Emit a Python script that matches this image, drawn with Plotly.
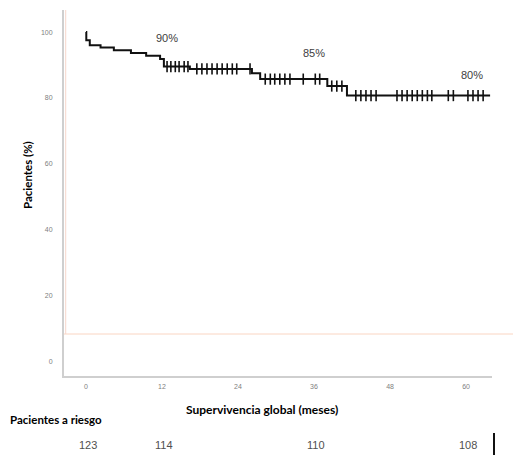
import plotly.graph_objects as go

# Kaplan-Meier step points (months, survival %)
step_times = [0, 0.05, 0.6, 2.3, 4.4, 7.1, 9.5, 11.7, 12.3, 16.4, 26.2, 27.5, 38.1, 41.2, 63.8]
step_surv = [100, 97.5, 96.0, 95.3, 94.5, 93.6, 92.8, 91.8, 89.5, 88.8, 87.5, 85.7, 83.6, 80.7, 80.7]

# censored observations (months)
censor_times = [12.8, 13.4, 14.1, 14.7, 15.5, 16.1,
                17.5, 18.3, 19.1, 19.9, 20.7, 21.5, 22.3, 23.1, 23.8, 25.9,
                28.3, 29.1, 29.8, 30.6, 31.4, 32.2, 34.3, 36.2, 36.9,
                38.8, 39.6, 40.4,
                42.6, 43.4, 44.2, 45.0, 45.8, 49.1, 49.9, 50.7, 51.5, 52.3, 53.1, 53.9, 54.6,
                57.2, 58.0, 60.3, 61.1, 61.9, 62.7]

x_ticks = [0, 12, 24, 36, 48, 60]
y_ticks = [0, 20, 40, 60, 80, 100]

pct_labels = ["90%", "85%", "80%"]
pct_x = [12.8, 36.0, 61.0]
pct_y = [98.2, 93.6, 86.9]

risk_times = [0, 12, 36, 60]
risk_counts = ["123", "114", "110", "108"]


def surv_at(t):
    s = step_surv[0]
    for tt, ss in zip(step_times, step_surv):
        if tt <= t:
            s = ss
    return s


censor_surv = [surv_at(t) for t in censor_times]

fig = go.Figure()
fig.add_trace(go.Scatter(x=step_times, y=step_surv, mode="lines",
                         line=dict(color="#111111", width=2, shape="hv"),
                         hoverinfo="skip", showlegend=False))
fig.add_trace(go.Scatter(x=censor_times, y=censor_surv, mode="markers",
                         marker=dict(symbol="line-ns-open", size=8, color="#111111",
                                     line=dict(color="#111111", width=1.6)),
                         showlegend=False))

annos = []
for t, xx, yy in zip(pct_labels, pct_x, pct_y):
    annos.append(dict(x=xx, y=yy, xref="x", yref="y", text=t, showarrow=False,
                      font=dict(family="Liberation Sans", size=11, color="#404040")))

risk_y = (376 - 445) / 366
for t, c in zip(risk_times, risk_counts):
    annos.append(dict(x=t + 0.3, y=risk_y, xref="x", yref="paper", text=c, showarrow=False,
                      yanchor="middle",
                      font=dict(family="Liberation Sans", size=11, color="#505050")))

annos.append(dict(x=(262 - 64) / 428, y=(376 - 409) / 366, xref="paper", yref="paper",
                  text="<b>Supervivencia global (meses)</b>", showarrow=False, yanchor="middle",
                  font=dict(family="Lato", size=12, color="#000000")))
annos.append(dict(x=(8 - 64) / 428, y=(376 - 419) / 366, xref="paper", yref="paper",
                  text="<b>Pacientes a riesgo</b>", showarrow=False, xanchor="left", yanchor="middle",
                  font=dict(family="Lato", size=11.5, color="#000000")))
annos.append(dict(x=(28 - 64) / 428, y=(376 - 175) / 366, xref="paper", yref="paper",
                  text="<b>Pacientes (%)</b>", showarrow=False, textangle=-90,
                  xanchor="center", yanchor="middle",
                  font=dict(family="Lato", size=11.5, color="#000000")))

orange_y = (376 - 334) / 366
shapes = [
    dict(type="line", xref="paper", yref="paper", x0=0, x1=(513 - 64) / 428,
         y0=orange_y, y1=orange_y, line=dict(color="#fad5c2", width=1)),
    dict(type="line", xref="paper", yref="paper", x0=0.004, x1=0.004,
         y0=orange_y, y1=1, line=dict(color="#f6d6cb", width=1)),
    dict(type="line", xref="paper", yref="paper", x0=(494 - 64) / 428, x1=(494 - 64) / 428,
         y0=(376 - 433) / 366, y1=(376 - 455) / 366, line=dict(color="#111111", width=2)),
]

fig.update_layout(
    width=513, height=460,
    margin=dict(l=64, r=21, t=10, b=84),
    plot_bgcolor="white", paper_bgcolor="white",
    annotations=annos, shapes=shapes,
    xaxis=dict(range=[-3.47, 64.1], tickvals=x_ticks, showgrid=False, zeroline=False,
               showline=True, linecolor="#cfcfcf", linewidth=2, ticks="",
               ticklabelstandoff=3,
               tickfont=dict(family="Liberation Sans", size=7, color="#808080")),
    yaxis=dict(range=[-4.5, 106.7], tickvals=y_ticks, showgrid=False, zeroline=False,
               showline=True, linecolor="#cfcfcf", linewidth=2, ticks="",
               ticklabelstandoff=8,
               tickfont=dict(family="Liberation Sans", size=7, color="#808080")),
)

fig.write_html("out.html")
